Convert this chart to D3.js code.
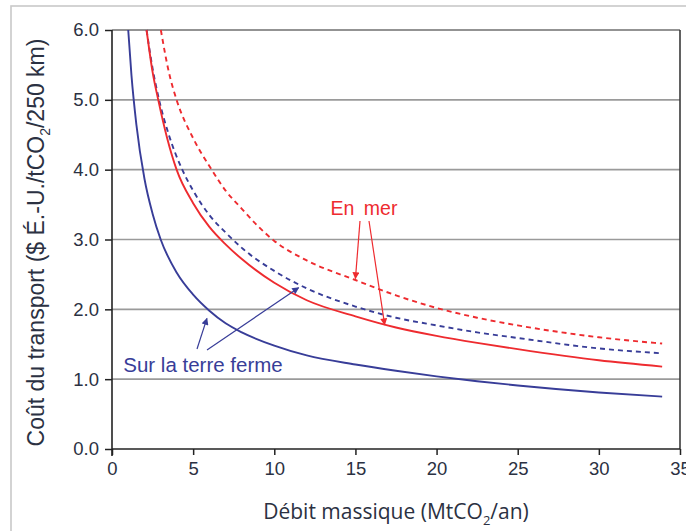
<!DOCTYPE html>
<html>
<head>
<meta charset="utf-8">
<script src="https://cdn.jsdelivr.net/npm/d3@7"></script>
<style>
  html, body { margin: 0; padding: 0; background: #ffffff; }
  svg { display: block; }
</style>
</head>
<body>
<svg id="chart" width="686" height="531"></svg>
<script>
// Transport cost curves (US$/tCO2/250 km) against mass flow rate (MtCO2/yr)

// Onshore pipeline, lower estimate (solid blue)
const landLowX = [1.0, 1.2, 1.5, 2, 2.5, 3, 4, 5, 6, 7, 8, 10, 12, 15, 17.5, 20, 22.5, 25, 30, 33.9];
const landLowY = [6.0, 5.35, 4.65, 3.87, 3.37, 3.0, 2.52, 2.21, 1.98, 1.80, 1.67, 1.48, 1.34, 1.21, 1.12, 1.04, 0.97, 0.91, 0.81, 0.75];

// Onshore pipeline, upper estimate (dashed blue)
const landHighX = [2.13, 2.5, 2.9, 3.5, 4.33, 5, 6, 7, 8, 10, 12, 15, 17.5, 20, 22.5, 25, 30, 33.9];
const landHighY = [6.0, 5.45, 5.0, 4.5, 4.0, 3.70, 3.35, 3.10, 2.88, 2.55, 2.30, 2.04, 1.88, 1.77, 1.67, 1.59, 1.44, 1.37];

// Offshore pipeline, lower estimate (solid red)
const seaLowX = [2.13, 2.5, 2.85, 3.4, 3.98, 5, 6, 7, 8, 10, 12, 15, 17.5, 20, 22.5, 25, 30, 33.9];
const seaLowY = [6.0, 5.4, 5.0, 4.45, 4.0, 3.52, 3.18, 2.93, 2.72, 2.38, 2.13, 1.90, 1.74, 1.62, 1.52, 1.43, 1.27, 1.18];

// Offshore pipeline, upper estimate (dashed red)
const seaHighX = [3.01, 3.5, 3.98, 5, 6.14, 7, 8, 9, 10, 12, 15, 17.5, 20, 22.5, 25, 30, 33.9];
const seaHighY = [6.0, 5.4, 5.0, 4.45, 4.0, 3.70, 3.44, 3.19, 2.98, 2.70, 2.42, 2.20, 2.02, 1.88, 1.77, 1.60, 1.51];

// Axis ticks
const xTicks = [0, 5, 10, 15, 20, 25, 30, 35];
const yTicks = [0, 1, 2, 3, 4, 5, 6];

const BLUE = "#383d98";
const RED = "#ee2b2f";
const INK = "#2b3142";

const svg = d3.select("#chart");

const x = d3.scaleLinear().domain([0, 35]).range([112, 680]);
const y = d3.scaleLinear().domain([0, 6]).range([449, 30]);

// Outer frame (only top and left edges fall inside the page)
svg.append("rect")
  .attr("x", 11).attr("y", 6)
  .attr("width", 700).attr("height", 560)
  .attr("fill", "none")
  .attr("stroke", "#c9c9c9")
  .attr("stroke-width", 1.6);

// Arrowhead markers
const defs = svg.append("defs");
[["arrowBlue", BLUE], ["arrowRed", RED]].forEach(([id, col]) => {
  defs.append("marker")
    .attr("id", id)
    .attr("viewBox", "0 0 10 10")
    .attr("refX", 9).attr("refY", 5)
    .attr("markerWidth", 8).attr("markerHeight", 7)
    .attr("markerUnits", "userSpaceOnUse")
    .attr("orient", "auto")
    .append("path")
    .attr("d", "M0,0 L10,5 L0,10 Z")
    .attr("fill", col);
});

// Horizontal gridlines
svg.append("g")
  .selectAll("line")
  .data(yTicks.filter(d => d > 0))
  .join("line")
  .attr("x1", x(0)).attr("x2", x(35))
  .attr("y1", d => y(d)).attr("y2", d => y(d))
  .attr("stroke", d => d === 6 ? "#6f6f6f" : "#9a9a9a")
  .attr("stroke-width", 1.6);

// Right border
svg.append("line")
  .attr("x1", x(35)).attr("x2", x(35))
  .attr("y1", y(6)).attr("y2", y(0))
  .attr("stroke", "#3a3a3a").attr("stroke-width", 1.6);

const tickFont = sel => sel
  .attr("fill", INK)
  .style("font-family", "'Liberation Sans', Arial, sans-serif")
  .style("font-size", "18.5px");

// Y axis
const yAxis = d3.axisLeft(y)
  .tickValues(yTicks)
  .tickFormat(d3.format(".1f"))
  .tickSize(7)
  .tickPadding(6);
const gy = svg.append("g")
  .attr("transform", `translate(${x(0)},0)`)
  .call(yAxis);
gy.select(".domain").remove();
gy.selectAll(".tick line").attr("stroke", "#222").attr("stroke-width", 1.5);
gy.selectAll(".tick text").call(tickFont);
svg.append("line")
  .attr("x1", x(0)).attr("x2", x(0))
  .attr("y1", y(6)).attr("y2", y(0) + 7)
  .attr("stroke", "#222").attr("stroke-width", 1.6);

// X axis
const xAxis = d3.axisBottom(x)
  .tickValues(xTicks)
  .tickFormat(d3.format("d"))
  .tickSize(6)
  .tickPadding(7);
const gx = svg.append("g")
  .attr("transform", `translate(0,${y(0)})`)
  .call(xAxis);
gx.select(".domain").remove();
gx.selectAll(".tick line").attr("stroke", "#222").attr("stroke-width", 1.5);
gx.selectAll(".tick text").call(tickFont);
svg.append("line")
  .attr("x1", x(0)).attr("x2", x(35))
  .attr("y1", y(0)).attr("y2", y(0))
  .attr("stroke", "#222").attr("stroke-width", 1.6);

// Curves
const line = d3.line()
  .x(d => x(d[0]))
  .y(d => y(d[1]))
  .curve(d3.curveMonotoneX);

const series = [
  { xs: seaHighX, ys: seaHighY, color: RED, dash: "5,4" },
  { xs: landHighX, ys: landHighY, color: BLUE, dash: "5,4" },
  { xs: seaLowX, ys: seaLowY, color: RED, dash: null },
  { xs: landLowX, ys: landLowY, color: BLUE, dash: null }
];

svg.append("g")
  .selectAll("path")
  .data(series)
  .join("path")
  .attr("d", s => line(d3.zip(s.xs, s.ys)))
  .attr("fill", "none")
  .attr("stroke", s => s.color)
  .attr("stroke-width", 1.9)
  .attr("stroke-dasharray", s => s.dash);

// Annotation: offshore
svg.append("text")
  .attr("x", 364).attr("y", 215)
  .attr("text-anchor", "middle")
  .attr("fill", RED)
  .style("font-family", "'Liberation Sans', Arial, sans-serif")
  .style("font-size", "19.5px")
  .style("word-spacing", "4px")
  .text("En mer");

const redArrows = [
  [[360, 221], [15.0, 2.44]],
  [[369, 221], [16.8, 1.78]]
];
svg.append("g")
  .selectAll("line")
  .data(redArrows)
  .join("line")
  .attr("x1", d => d[0][0]).attr("y1", d => d[0][1])
  .attr("x2", d => x(d[1][0])).attr("y2", d => y(d[1][1]))
  .attr("stroke", RED).attr("stroke-width", 1.2)
  .attr("marker-end", "url(#arrowRed)");

// Annotation: onshore
svg.append("text")
  .attr("x", 203).attr("y", 372)
  .attr("text-anchor", "middle")
  .attr("fill", BLUE)
  .style("font-family", "'Liberation Sans', Arial, sans-serif")
  .style("font-size", "20.5px")
  .text("Sur la terre ferme");

const blueArrows = [
  [[197, 349], [5.85, 1.87]],
  [[207, 350], [11.5, 2.31]]
];
svg.append("g")
  .selectAll("line")
  .data(blueArrows)
  .join("line")
  .attr("x1", d => d[0][0]).attr("y1", d => d[0][1])
  .attr("x2", d => x(d[1][0])).attr("y2", d => y(d[1][1]))
  .attr("stroke", BLUE).attr("stroke-width", 1.2)
  .attr("marker-end", "url(#arrowBlue)");

// Axis titles
const xt = svg.append("text")
  .attr("x", (x(0) + x(35)) / 2).attr("y", 519)
  .attr("text-anchor", "middle")
  .attr("fill", INK)
  .style("font-family", "'Open Sans', sans-serif")
  .style("font-size", "21px");
xt.append("tspan").text("Débit massique (MtCO");
xt.append("tspan").attr("dy", 6).style("font-size", "13px").text("2");
xt.append("tspan").attr("dy", -6).text("/an)");

const yt = svg.append("text")
  .attr("transform", `translate(44,${(y(0) + y(6)) / 2 + 3}) rotate(-90)`)
  .attr("text-anchor", "middle")
  .attr("fill", INK)
  .style("font-family", "'Liberation Sans', Arial, sans-serif")
  .style("font-size", "23px");
yt.append("tspan").text("Coût du transport ($ É.-U./tCO");
yt.append("tspan").attr("dy", 6).style("font-size", "14px").text("2");
yt.append("tspan").attr("dy", -6).text("/250 km)");
</script>
</body>
</html>
